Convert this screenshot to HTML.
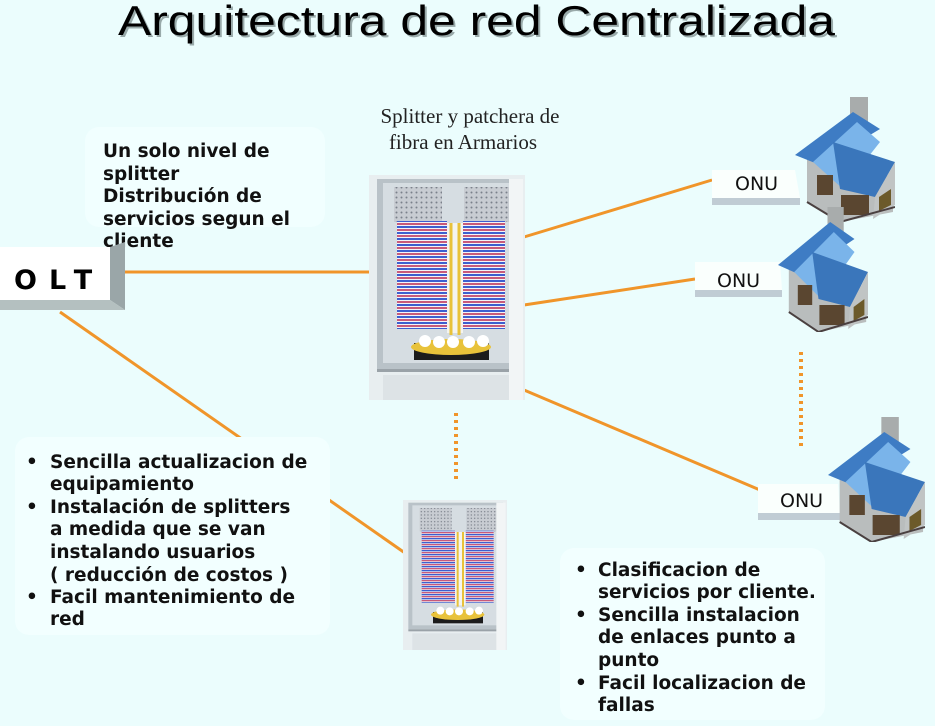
<!DOCTYPE html>
<html><head><meta charset="utf-8"><style>
html,body{margin:0;padding:0;background:#ebfdfd;}
svg{display:block;}
</style></head><body>
<svg width="935" height="726" viewBox="0 0 935 726" xmlns="http://www.w3.org/2000/svg">
<defs>
<pattern id="stripes" x="0" y="0" width="10" height="6" patternUnits="userSpaceOnUse">
<rect width="10" height="6" fill="#f3f3f8"/>
<rect y="0" width="10" height="2" fill="#c85a7a"/>
<rect y="3" width="10" height="2" fill="#3c5fd0"/>
</pattern>
<pattern id="dots" width="5" height="5" patternUnits="userSpaceOnUse">
<rect width="5" height="5" fill="#c8ccd2"/><circle cx="2.5" cy="2.5" r="1" fill="#7a808a"/>
</pattern>
<symbol id="cab" viewBox="0 0 156 225">
<rect width="156" height="225" fill="#e8eef0"/>
<rect x="8" y="4" width="142" height="190" fill="#b9c2c8"/>
<rect x="14" y="8" width="130" height="180" fill="#d6dde2"/>
<rect x="25" y="12" width="48" height="35" fill="url(#dots)"/>
<rect x="95" y="12" width="48" height="35" fill="url(#dots)"/>
<rect x="28" y="46" width="50" height="108" fill="url(#stripes)"/>
<rect x="94" y="46" width="42" height="108" fill="url(#stripes)"/>
<rect x="78" y="48" width="16" height="110" fill="#f4f4f0"/>
<path d="M82 48 V160 M90 48 V160" stroke="#e8c23a" stroke-width="3"/>
<rect x="45" y="168" width="75" height="17" fill="#1c1c1c"/>
<ellipse cx="82" cy="172" rx="40" ry="8" fill="#e8c23a"/>
<g fill="#ffffff"><circle cx="56" cy="166" r="6"/><circle cx="70" cy="167" r="6"/><circle cx="84" cy="167" r="6"/><circle cx="100" cy="167" r="6"/><circle cx="114" cy="166" r="6"/></g>
<rect x="8" y="194" width="142" height="3" fill="#9aa2a8"/>
<rect x="14" y="200" width="130" height="25" fill="#dde3e6"/>
<rect x="140" y="4" width="14" height="221" fill="#f2f5f6"/>
</symbol>
<symbol id="house" viewBox="0 0 100 125" preserveAspectRatio="none">
<rect x="55" y="0" width="18" height="28" fill="#a8acac"/>
<polygon points="12,60 98,80 98,115 45,125 12,105" fill="#b9bdbd"/>
<polygon points="0,58 58,15 85,32 25,68" fill="#3e7cc4"/>
<polygon points="18,65 62,25 85,45 48,92" fill="#7ab4ea"/>
<polygon points="38,45 100,65 80,100 45,92" fill="#3a76bb"/>
<polygon points="100,65 100,108 78,122 80,100" fill="#c0c4c4"/>
<rect x="22" y="78" width="16" height="20" fill="#5a4630"/>
<rect x="46" y="98" width="28" height="20" fill="#5a4630"/>
<polygon points="84,100 96,92 96,108 84,114" fill="#6c5a2a"/>
<path d="M12 105 L45 125 L100 110" stroke="#4a4040" stroke-width="2" fill="none"/>
</symbol>
</defs>

<text x="118" y="35" font-family="Liberation Sans, sans-serif" font-size="42" fill="#9aa" textLength="717" lengthAdjust="spacingAndGlyphs" transform="translate(2,2)">Arquitectura de red Centralizada</text>
<text x="118" y="35" font-family="Liberation Sans, sans-serif" font-size="42" fill="#000" textLength="717" lengthAdjust="spacingAndGlyphs">Arquitectura de red Centralizada</text>

<g font-family="Liberation Serif, serif" font-size="21" fill="#222" text-anchor="middle">
<text x="470" y="123">Splitter y patchera de</text>
<text x="463" y="149">fibra en Armarios</text>
</g>

<!-- connectors -->
<g stroke="#f0952a" stroke-width="3" fill="none">
<line x1="125" y1="272" x2="370" y2="272"/>
<line x1="60" y1="312" x2="405" y2="553"/>
<line x1="524" y1="237" x2="712" y2="180"/>
<line x1="524" y1="305" x2="695" y2="279"/>
<line x1="524" y1="390" x2="760" y2="490"/>
<line x1="456" y1="413" x2="456" y2="482" stroke-dasharray="3,4" stroke-width="4"/>
<line x1="801" y1="352" x2="801" y2="450" stroke-dasharray="3,4" stroke-width="4"/>
</g>

<!-- text boxes -->
<rect x="85" y="127" width="240" height="100" rx="14" fill="#f2ffff" opacity="0.9"/>
<rect x="15" y="437" width="315" height="198" rx="14" fill="#f2ffff"/>
<rect x="560" y="548" width="265" height="172" rx="14" fill="#f2ffff"/>

<g font-family="DejaVu Sans, sans-serif" font-size="18.5" font-weight="bold" fill="#111">
<text x="103" y="157">Un solo nivel de</text>
<text x="103" y="180">splitter</text>
<text x="103" y="202">Distribución de</text>
<text x="103" y="225">servicios segun el</text>
<text x="103" y="247">cliente</text>

<text x="26" y="468">•</text><text x="50" y="468">Sencilla actualizacion de</text>
<text x="50" y="490">equipamiento</text>
<text x="26" y="513">•</text><text x="50" y="513">Instalación de splitters</text>
<text x="50" y="535">a medida que se van</text>
<text x="50" y="558">instalando usuarios</text>
<text x="50" y="581">( reducción de costos )</text>
<text x="26" y="603">•</text><text x="50" y="603">Facil mantenimiento de</text>
<text x="50" y="625">red</text>

<text x="575" y="576">•</text><text x="598" y="576">Clasificacion de</text>
<text x="598" y="598">servicios por cliente.</text>
<text x="575" y="621">•</text><text x="598" y="621">Sencilla instalacion</text>
<text x="598" y="643">de enlaces punto a</text>
<text x="598" y="666">punto</text>
<text x="575" y="689">•</text><text x="598" y="689">Facil localizacion de</text>
<text x="598" y="711">fallas</text>
</g>

<!-- OLT box -->
<polygon points="110,247 125,242 125,310 110,300" fill="#9aa6a8"/>
<polygon points="0,300 110,300 125,310 0,310" fill="#b4c0c0"/>
<rect x="0" y="247" width="110" height="53" fill="#ffffff"/>
<text x="14" y="289" font-family="DejaVu Sans, sans-serif" font-size="27" font-weight="bold" fill="#000" letter-spacing="12">OLT</text>

<!-- cabinets -->
<use href="#cab" x="369" y="175" width="156" height="225"/>
<use href="#cab" x="403" y="500" width="104" height="150"/>

<!-- ONU labels -->
<g font-family="DejaVu Sans, sans-serif" font-size="19" fill="#111">
<polygon points="712,170 795,170 800,198 712,198" fill="#fafffd"/>
<polygon points="712,198 800,198 800,205 712,205" fill="#c0ccd4"/>
<text x="735" y="190">ONU</text>
<polygon points="695,262 780,262 782,290 695,290" fill="#fafffd"/>
<polygon points="695,290 782,290 782,297 695,297" fill="#c0ccd4"/>
<text x="717" y="287">ONU</text>
<polygon points="758,484 838,484 840,513 758,513" fill="#fafffd"/>
<polygon points="758,513 840,513 840,520 758,520" fill="#c0ccd4"/>
<text x="780" y="507">ONU</text>
</g>

<use href="#house" x="795" y="97" width="100" height="125"/>
<use href="#house" x="778" y="207" width="90" height="125"/>
<use href="#house" x="828" y="417" width="97" height="125"/>
</svg>
</body></html>
